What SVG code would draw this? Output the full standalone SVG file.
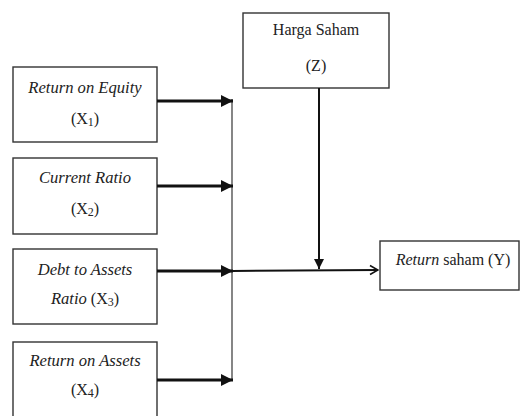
<svg xmlns="http://www.w3.org/2000/svg" width="520" height="416" viewBox="0 0 520 416">
<style>
.box{fill:#fff;stroke:#333;stroke-width:1.4}
text{font-family:'Liberation Serif','Times New Roman',Tinos,'DejaVu Serif',serif;font-size:16px;fill:#222;text-anchor:middle}
.it{font-style:italic}
.lbl{font-size:16.6px}
.thick{stroke:#111;stroke-width:3;fill:none}
.med{stroke:#111;stroke-width:2;fill:none}
.thin{stroke:#444;stroke-width:1.3;fill:none}
</style>
<defs>
<marker id="tri" viewBox="0 0 10 10" refX="10" refY="5" markerWidth="4" markerHeight="4" markerUnits="strokeWidth" orient="auto">
<path d="M0,0 L10,5 L0,10 z" fill="#111"/>
</marker>
<marker id="tri2" viewBox="0 0 10 10" refX="10" refY="5" markerWidth="5" markerHeight="5" markerUnits="strokeWidth" orient="auto">
<path d="M0,0 L10,5 L0,10 z" fill="#111"/>
</marker>
<marker id="open" viewBox="0 0 10 10" refX="9" refY="5" markerWidth="5" markerHeight="6" markerUnits="strokeWidth" orient="auto">
<path d="M1,0.5 L9,5 L1,9.5" fill="none" stroke="#111" stroke-width="1.6"/>
</marker>
</defs>
<g id="x1">
<rect class="box" x="13" y="67" width="144" height="75"/>
<text class="it lbl" x="85" y="93">Return on Equity</text>
<text x="85" y="124">(X<tspan font-size="12" dy="2">1</tspan><tspan dy="-2">)</tspan></text>
</g>
<g id="x2">
<rect class="box" x="13" y="158" width="144" height="76"/>
<text class="it lbl" x="85" y="183">Current Ratio</text>
<text x="85" y="214">(X<tspan font-size="12" dy="2">2</tspan><tspan dy="-2">)</tspan></text>
</g>
<g id="x3">
<rect class="box" x="13" y="249" width="144" height="75"/>
<text class="it lbl" x="85" y="275">Debt to Assets</text>
<text x="85" y="304"><tspan class="it lbl">Ratio</tspan> (X<tspan font-size="12" dy="2">3</tspan><tspan dy="-2">)</tspan></text>
</g>
<g id="x4">
<rect class="box" x="13" y="342" width="144" height="76"/>
<text class="it lbl" x="85" y="366">Return on Assets</text>
<text x="85" y="395">(X<tspan font-size="12" dy="2">4</tspan><tspan dy="-2">)</tspan></text>
</g>
<g id="z">
<rect class="box" x="243" y="13" width="146" height="75"/>
<text x="316" y="35">Harga Saham</text>
<text x="316" y="71">(Z)</text>
</g>
<g id="y">
<rect class="box" x="380" y="241" width="139" height="49"/>
<text x="453" y="265"><tspan class="it">Return</tspan> saham (Y)</text>
</g>
<g id="connectors">
<line class="thin" x1="232" y1="99" x2="232" y2="381"/>
<line class="thick" x1="157" y1="101" x2="233" y2="101" marker-end="url(#tri)"/>
<line class="thick" x1="157" y1="186" x2="233" y2="186" marker-end="url(#tri)"/>
<line class="thick" x1="157" y1="271" x2="233" y2="271" marker-end="url(#tri)"/>
<line class="thick" x1="157" y1="380" x2="233" y2="380" marker-end="url(#tri)"/>
<line class="med" x1="232" y1="271" x2="378" y2="270" marker-end="url(#open)"/>
<line class="med" x1="319" y1="88" x2="319" y2="269" marker-end="url(#tri2)"/>
</g>
</svg>
